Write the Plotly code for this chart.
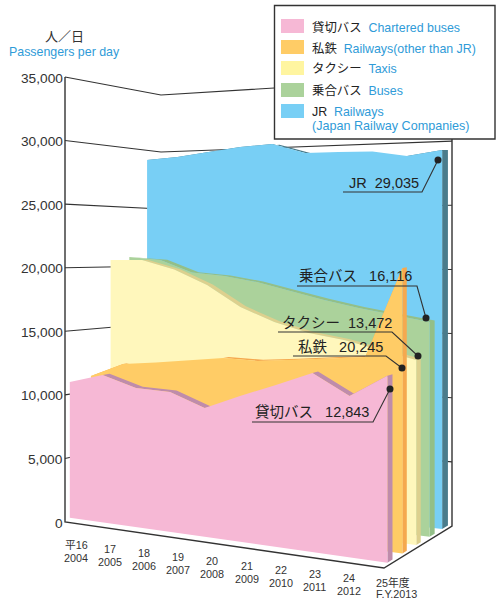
import plotly.graph_objects as go

# ---------- data ----------
years_jp = ["平16", "17", "18", "19", "20", "21", "22", "23", "24", "25年度"]
years_en = ["2004", "2005", "2006", "2007", "2008", "2009", "2010", "2011", "2012", "F.Y.2013"]
chartered = [10960, 11740, 10950, 10880, 9910, 11040, 12070, 13170, 11730, 13370]
private_rail = [11200, 12370, 12680, 13060, 13400, 13360, 13620, 13910, 14200, 20780]
taxis = [20570, 20640, 19950, 18790, 17160, 16110, 15400, 15010, 14410, 13830]
buses = [20800, 20610, 19630, 19420, 19000, 18370, 17750, 17220, 16790, 16370]
jr = [29170, 29350, 29700, 30030, 30190, 29370, 29380, 29350, 28920, 29300]
value_ticks = [0, 5000, 10000, 15000, 20000, 25000, 30000, 35000]
tick_labels = ["0", "5,000", "10,000", "15,000", "20,000", "25,000", "30,000", "35,000"]

# ---------- projection ----------
VMAX = 35000.0
BASE = 230.0


def pos(i):
    t = i / 9
    return t * (0.92 + 0.08 * t)


def project(u, d, v):
    x = (65 + 319 * u) * (1 - d) + (161 + 291 * u) * d
    y0 = (1 - u) * ((1 - d) * 522 + d * 494) + u * ((1 - d) * 568 + d * 526)
    h = (1 - u) * ((1 - d) * 445 + d * 399) + u * ((1 - d) * 500 + d * 449)
    return x, y0 - v / VMAX * h


fig = go.Figure()
INK = "#333333"
FONT = "Liberation Sans, Noto Sans CJK JP, sans-serif"
BLUE_TXT = "#2F9BD8"


def poly(xs, ys, color):
    fig.add_trace(go.Scatter(x=xs, y=ys, mode="lines", fill="toself", fillcolor=color,
                             line=dict(width=0, color=color), hoverinfo="skip", showlegend=False))


def line(xs, ys, color=INK, width=1.2):
    fig.add_trace(go.Scatter(x=xs, y=ys, mode="lines", line=dict(color=color, width=width),
                             hoverinfo="skip", showlegend=False))


# gridlines: left wall then back wall
for v in value_ticks[1:]:
    pts = [project(0, 0, v), project(0, 1, v), project(1, 1, v)]
    line([p[0] for p in pts], [p[1] for p in pts], width=1.1)

# axes
p0, p1, p2, p3 = project(0, 0, 0), project(1, 0, 0), project(1, 1, 0), project(0, 0, VMAX)
line([p3[0], p0[0], p1[0], p2[0], project(1, 1, VMAX)[0]],
     [p3[1], p0[1], p1[1], p2[1], project(1, 1, VMAX)[1]], width=1.4)

layers = [
    (jr, 0.855, 0.085, "#78CFF5", "#4A7C8C"),
    (buses, 0.67, 0.075, "#ABD29B", "#93BF88"),
    (taxis, 0.475, 0.065, "#FFF7BC", "#DDD08E"),
    (private_rail, 0.27, 0.065, "#FFCC66", "#F5A94F"),
    (chartered, 0.05, 0.075, "#F6B8D5", "#BF8CAB"),
]
for vals, d, th, face, dark in layers:
    us = [pos(i) for i in range(len(vals))]
    xs, ys = [], []
    # top surface, segment by segment
    for i in range(len(vals) - 1):
        a = project(us[i], d, vals[i])
        b = project(us[i + 1], d, vals[i + 1])
        c = project(us[i + 1], d + th, vals[i + 1])
        e = project(us[i], d + th, vals[i])
        xs += [a[0], b[0], c[0], e[0], a[0], None]
        ys += [a[1], b[1], c[1], e[1], a[1], None]
    # right-hand side
    q = [project(1, d, vals[-1]), project(1, d + th, vals[-1]), project(1, d + th, BASE), project(1, d, BASE)]
    xs += [p[0] for p in q] + [q[0][0]]
    ys += [p[1] for p in q] + [q[0][1]]
    poly(xs, ys, dark)
    # front face
    top = [project(u, d, v) for u, v in zip(us, vals)]
    bot = [project(1, d, BASE), project(0, d, BASE)]
    fx = [p[0] for p in top + bot] + [top[0][0]]
    fy = [p[1] for p in top + bot] + [top[0][1]]
    poly(fx, fy, face)

ann = []


def text(x, y, s, size=13, color="#222222", anchor="center", family=FONT):
    shift = {"left": -2.5, "right": 2, "center": 0}[anchor]
    ann.append(dict(x=x, y=y, xref="x", yref="y", text=s, showarrow=False, xanchor=anchor, yanchor="middle",
                    xshift=shift, align=anchor, font=dict(size=size, color=color, family=family)))


# value axis labels
for v, lab in zip(value_ticks, tick_labels):
    px, py = project(0, 0, v)
    text(px - 2.5, py + 1, lab, size=13.7, color=INK, anchor="right")

text(64, 36, "人／日", size=13, color=INK)
text(64, 52, "Passengers per day", size=12.4, color=BLUE_TXT)

# year labels
for i in range(9):
    text(76 + i * 34.1, 545 + i * 4.12, years_jp[i], size=10.8, color=INK)
    text(76 + i * 34.1, 558 + i * 4.12, years_en[i], size=10.8, color=INK)
text(393, 582, years_jp[9], size=10.8, color=INK)
text(396, 594, years_en[9], size=10.8, color=INK)

# call-outs
SP2 = "\u00a0\u00a0"
SP3 = "\u00a0\u00a0\u00a0"
callouts = [
    ("JR" + SP2 + "29,035", 349, 183, [343, 422, 438], [192, 192, 160]),
    ("乗合バス" + SP3 + "16,116", 299, 276, [297, 417, 426], [286, 286, 318]),
    ("タクシー" + SP2 + "13,472", 282, 323, [278, 392, 418], [332, 332, 356]),
    ("私鉄" + SP3 + "20,245", 298, 347, [293, 386, 402], [356, 356, 368]),
    ("貸切バス" + SP3 + "12,843", 255, 412, [252, 373, 390], [422, 422, 389]),
]
for s, tx, ty, lx, ly in callouts:
    line(lx, ly, color="#333333", width=1.1)
    fig.add_trace(go.Scatter(x=[lx[-1]], y=[ly[-1]], mode="markers", marker=dict(size=7, color="#222222"),
                             hoverinfo="skip", showlegend=False))
    text(tx, ty, s, size=14.5, anchor="left")

# legend box
shapes = [dict(type="rect", xref="x", yref="y", x0=274.5, x1=495, y0=5.5, y1=139,
               fillcolor="white", line=dict(color="#333333", width=1.4), layer="above")]
legend_rows = [
    ("#F6B8D5", 19, "貸切バス", "Chartered buses", 27),
    ("#FFCC66", 40, "私鉄", "Railways(other than JR)", 48),
    ("#FFF5A0", 61, "タクシー", "Taxis", 69),
    ("#ABD29B", 83, "乗合バス", "Buses", 91),
    ("#78CFF5", 104, "JR", "Railways", 112),
]
for col, y0, jp, en, ty in legend_rows:
    shapes.append(dict(type="rect", xref="x", yref="y", x0=281, x1=304, y0=y0, y1=y0 + 14,
                       fillcolor=col, line=dict(width=0), layer="above"))
    text(312, ty, f'{jp}\u00a0\u00a0<span style="color:{BLUE_TXT}">{en}</span>', size=12.4, anchor="left")
text(312, 126, "(Japan Railway Companies)", size=12.6, color=BLUE_TXT, anchor="left")

fig.update_layout(
    width=501, height=601, margin=dict(l=0, r=0, t=0, b=0),
    paper_bgcolor="white", plot_bgcolor="white", showlegend=False,
    xaxis=dict(range=[0, 501], visible=False, fixedrange=True),
    yaxis=dict(range=[601, 0], visible=False, fixedrange=True),
    annotations=ann, shapes=shapes,
)
fig.write_html("out.html", post_script="document.body.style.margin='0';", config={"displayModeBar": False})
